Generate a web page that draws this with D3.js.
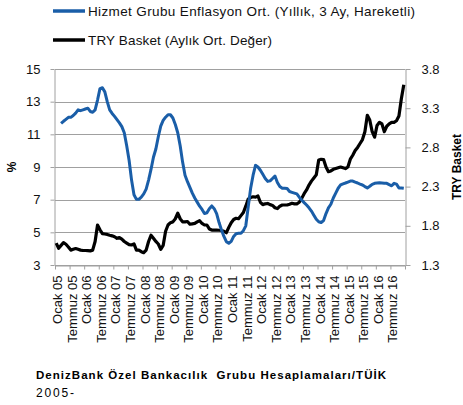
<!DOCTYPE html>
<html>
<head>
<meta charset="utf-8">
<script src="https://cdn.jsdelivr.net/npm/d3@7"></script>
<style>
  body { margin: 0; background: #fff; }
  svg { display: block; font-family: 'Liberation Sans', Arial, sans-serif; }
</style>
</head>
<body>
<svg id="chart" width="463" height="405"></svg>
<script>
// tick labels every 6 months
const tickLabels = [
  'Ocak 05', 'Temmuz 05', 'Ocak 06', 'Temmuz 06', 'Ocak 07', 'Temmuz 07',
  'Ocak 08', 'Temmuz 08', 'Ocak 09', 'Temmuz 09', 'Ocak 10', 'Temmuz 10',
  'Ocak 11', 'Temmuz 11', 'Ocak 12', 'Temmuz 12', 'Ocak 13', 'Temmuz 13',
  'Ocak 14', 'Temmuz 14', 'Ocak 15', 'Temmuz 15', 'Ocak 16', 'Temmuz 16',
];

// monthly, Jan 2005 - Dec 2016 (one row per year)
const hizmet = [
  null, null, 11.67, 11.8, 11.92, 12.04, 12.04, 12.15, 12.3, 12.5, 12.45, 12.5,
  12.55, 12.6, 12.4, 12.35, 12.5, 13.1, 13.8, 13.85, 13.6, 13.0, 12.5, 12.28,
  12.1, 11.9, 11.7, 11.47, 11.1, 10.3, 9.4, 8.2, 7.3, 7.02, 7.02, 7.15,
  7.35, 7.65, 8.2, 8.85, 9.6, 10.1, 10.85, 11.5, 11.85, 12.05, 12.2, 12.2,
  12.0, 11.6, 11.1, 10.3, 9.3, 8.5, 8.1, 7.75, 7.4, 7.1, 6.85, 6.6,
  6.4, 6.15, 6.2, 6.45, 6.62, 6.45, 6.15, 5.6, 5.15, 4.75, 4.43, 4.33,
  4.45, 4.75, 4.92, 4.94, 4.94, 5.1, 5.4, 6.57, 7.7, 8.5, 9.1, 9.0,
  8.8, 8.55, 8.3, 8.12, 8.15, 8.3, 8.45, 8.05, 7.8, 7.7, 7.7, 7.68,
  7.5, 7.45, 7.4, 7.35, 7.15, 6.98, 6.82, 6.67, 6.5, 6.3, 6.05, 5.8,
  5.65, 5.6, 5.72, 6.15, 6.5, 6.72, 7.1, 7.4, 7.7, 7.9, 7.97, 8.02,
  8.08, 8.14, 8.14, 8.07, 8.02, 7.95, 7.9, 7.8, 7.72, 7.82, 7.94, 8.0,
  8.02, 8.04, 8.02, 8.0, 8.0, 7.92, 7.85, 8.0, 7.95, 7.72, 7.72, 7.7,
];

const tryBasket = [
  1.58, 1.513, 1.55, 1.585, 1.565, 1.53, 1.49, 1.5, 1.51, 1.5, 1.49, 1.485,
  1.485, 1.483, 1.48, 1.49, 1.6, 1.81, 1.75, 1.7, 1.695, 1.69, 1.68, 1.672,
  1.66, 1.64, 1.65, 1.63, 1.6, 1.58, 1.56, 1.555, 1.57, 1.49, 1.49, 1.47,
  1.457, 1.49, 1.6, 1.68, 1.64, 1.6, 1.568, 1.5, 1.55, 1.73, 1.81, 1.84,
  1.85, 1.89, 1.96, 1.89, 1.85, 1.85, 1.855, 1.82, 1.825, 1.83, 1.85, 1.865,
  1.83, 1.81, 1.81, 1.76, 1.746, 1.746, 1.746, 1.743, 1.74, 1.73, 1.712, 1.78,
  1.84, 1.88, 1.896, 1.89, 1.93, 1.97, 2.05, 2.14, 2.16, 2.17, 2.165, 2.18,
  2.1, 2.07, 2.08, 2.085, 2.07, 2.06, 2.03, 2.02, 2.05, 2.065, 2.065, 2.065,
  2.075, 2.087, 2.08, 2.08, 2.1, 2.15, 2.21, 2.257, 2.32, 2.37, 2.41, 2.45,
  2.64, 2.648, 2.645, 2.55, 2.49, 2.5, 2.52, 2.53, 2.54, 2.55, 2.54, 2.53,
  2.55, 2.65, 2.7, 2.76, 2.8, 2.85, 2.9, 3.0, 3.21, 3.15, 3.0, 2.93,
  3.08, 3.12, 3.1, 3.0, 3.07, 3.1, 3.12, 3.12, 3.14, 3.2, 3.42, 3.6,
];

const leftTicks = [3, 5, 7, 9, 11, 13, 15];
const rightTicks = [1.3, 1.8, 2.3, 2.8, 3.3, 3.8];

const blue = '#1a5ea8';
const grid = '#a0a0a0';

const svg = d3.select('#chart');

const x = d3.scaleLinear().domain([0, 144]).range([55, 405]);
const yL = d3.scaleLinear().domain([3, 15]).range([265, 69]);
const yR = d3.scaleLinear().domain([1.3, 3.8]).range([265, 69]);

// gridlines
svg.append('g')
  .selectAll('line')
  .data(leftTicks)
  .join('line')
  .attr('x1', 55).attr('x2', 405)
  .attr('y1', (d) => Math.round(yL(d)) + 0.5)
  .attr('y2', (d) => Math.round(yL(d)) + 0.5)
  .attr('stroke', grid);

// left axis
const gl = svg.append('g')
  .attr('transform', 'translate(54.5,0)')
  .call(d3.axisLeft(yL).tickValues(leftTicks).tickSize(4).tickSizeOuter(0).tickPadding(10));

// right axis
const gr = svg.append('g')
  .attr('transform', 'translate(405.5,0)')
  .call(d3.axisRight(yR).tickValues(rightTicks).tickFormat(d3.format('.1f')).tickSize(5).tickSizeOuter(0).tickPadding(11));

// x axis
const gx = svg.append('g')
  .attr('transform', 'translate(0,265.5)')
  .call(d3.axisBottom(x).tickValues(d3.range(0, 145, 6)).tickSize(4).tickSizeOuter(0)
    .tickFormat((d, i) => tickLabels[i] || ''));

gx.selectAll('text')
  .attr('text-anchor', 'end')
  .attr('transform', 'translate(6.5,10) rotate(-90)')
  .attr('x', 0).attr('y', 0).attr('dy', 0);

[gl, gr, gx].forEach((g) => {
  g.selectAll('path, line').attr('stroke', grid);
  g.selectAll('text').attr('font-size', 13).attr('fill', '#111')
    .attr('font-family', "'Liberation Sans', Arial, sans-serif");
});

// lines
const line = (yScale) => d3.line()
  .defined((d) => d != null)
  .x((d, i) => x(i + 0.5))
  .y((d) => yScale(d));

svg.append('path')
  .datum(tryBasket)
  .attr('fill', 'none')
  .attr('stroke', '#000')
  .attr('stroke-width', 3.2)
  .attr('stroke-linejoin', 'round')
  .attr('d', line(yR));

svg.append('path')
  .datum(hizmet)
  .attr('fill', 'none')
  .attr('stroke', blue)
  .attr('stroke-width', 3)
  .attr('stroke-linejoin', 'round')
  .attr('d', line(yL));

// axis titles
svg.append('text')
  .attr('transform', 'translate(16,167) rotate(-90)')
  .attr('text-anchor', 'middle')
  .attr('font-size', 12).attr('font-weight', 'bold')
  .text('%');

svg.append('text')
  .attr('transform', 'translate(461,167) rotate(-90)')
  .attr('text-anchor', 'middle')
  .attr('font-size', 12).attr('font-weight', 'bold')
  .text('TRY Basket');

// legend
const legend = [
  { name: 'Hizmet Grubu Enflasyon Ort. (Yıllık, 3 Ay, Hareketli)', color: blue, y: 11, w: 327 },
  { name: 'TRY Basket (Aylık Ort. Değer)', color: '#000', y: 40, w: 184 },
];
const lg = svg.append('g').selectAll('g').data(legend).join('g');
lg.append('line')
  .attr('x1', 53).attr('x2', 85)
  .attr('y1', (d) => d.y).attr('y2', (d) => d.y)
  .attr('stroke', (d) => d.color)
  .attr('stroke-width', 3.5);
lg.append('text')
  .attr('x', 88).attr('y', (d) => d.y)
  .attr('dy', '0.35em')
  .attr('font-size', 13.5)
  .attr('fill', '#111')
  .attr('textLength', (d) => d.w)
  .attr('lengthAdjust', 'spacing')
  .text((d) => d.name);

// source
svg.append('text')
  .attr('x', 36).attr('y', 379)
  .attr('font-size', 11.5).attr('font-weight', 'bold')
  .attr('xml:space', 'preserve')
  .attr('textLength', 350)
  .attr('lengthAdjust', 'spacing')
  .text('DenizBank Özel Bankacılık  Grubu Hesaplamaları/TÜİK');

svg.append('text')
  .attr('x', 36).attr('y', 397)
  .attr('font-size', 12)
  .attr('textLength', 38)
  .attr('lengthAdjust', 'spacing')
  .text('2005-');
</script>
</body>
</html>
